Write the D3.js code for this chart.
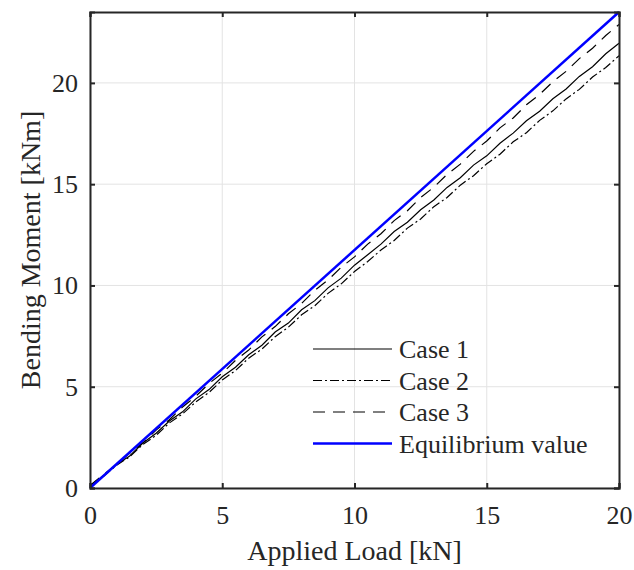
<!DOCTYPE html>
<html><head><meta charset="utf-8">
<script src="https://cdn.jsdelivr.net/npm/d3@7"></script>
<style>body{margin:0;background:#fff}svg{display:block}text{font-family:"Liberation Serif","Times New Roman",serif;fill:#262626}</style>
</head><body>
<svg id="c" width="634" height="570"></svg>
<script>
const load = [0,0.5,1,1.5,2,2.5,3,3.5,4,4.5,5,5.5,6,6.5,7,7.5,8,8.5,9,9.5,10,10.5,11,11.5,12,12.5,13,13.5,14,14.5,15,15.5,16,16.5,17,17.5,18,18.5,19,19.5,20];
const case1 = [0.10,0.60,1.16,1.58,2.22,2.70,3.31,3.76,4.40,4.86,5.49,5.96,6.58,7.05,7.70,8.14,8.80,9.25,9.88,10.36,11.00,11.52,12.04,12.66,13.12,13.74,14.22,14.84,15.32,15.94,16.40,17.02,17.52,18.13,18.60,19.22,19.70,20.32,20.80,21.44,21.96];
const case2 = [0.08,0.56,1.12,1.54,2.15,2.60,3.21,3.66,4.25,4.72,5.33,5.80,6.41,6.86,7.47,7.94,8.55,9.00,9.61,10.08,10.69,11.18,11.75,12.22,12.83,13.28,13.89,14.34,14.95,15.42,16.01,16.48,17.09,17.54,18.15,18.62,19.21,19.68,20.29,20.76,21.34];
const case3 = [0.12,0.66,1.14,1.72,2.23,2.86,3.37,4.00,4.53,5.16,5.67,6.30,6.81,7.46,7.97,8.60,9.11,9.76,10.27,10.90,11.41,12.04,12.55,13.20,13.69,14.34,14.85,15.48,15.99,16.62,17.13,17.78,18.27,18.92,19.43,20.06,20.57,21.20,21.71,22.34,22.88];
const eqLoad = [0,20];
const eqValue = [0,23.5];
const xTicks = [0,5,10,15,20];
const yTicks = [0,5,10,15,20];
const seriesNames = ["Case 1","Case 2","Case 3","Equilibrium value"];

const svg = d3.select("#c");
const L=90,R=619,T=12,B=488;
const x = d3.scaleLinear().domain([0,20]).range([L,R]);
const y = d3.scaleLinear().domain([0,23.5]).range([B,T]);

// grid
const g = svg.append("g");
g.selectAll(".gx").data(xTicks).join("line").attr("x1",d=>x(d)).attr("x2",d=>x(d)).attr("y1",T).attr("y2",B).attr("stroke","#e3e3e3").attr("stroke-width",1);
g.selectAll(".gy").data(yTicks).join("line").attr("y1",d=>y(d)).attr("y2",d=>y(d)).attr("x1",L).attr("x2",R).attr("stroke","#e3e3e3").attr("stroke-width",1);

// lines
const mk = (xs,ys)=>d3.line().x((d,i)=>x(xs[i])).y((d,i)=>y(ys[i]))(ys);
const styles = [
  {data:case1, dash:null, color:"#000", w:1.2},
  {data:case2, dash:"9,3,2,3", color:"#000", w:1.2},
  {data:case3, dash:"12,8", color:"#000", w:1.2}
];
styles.forEach(s=>{
  svg.append("path").attr("d",mk(load,s.data)).attr("fill","none").attr("stroke",s.color).attr("stroke-width",s.w).attr("stroke-dasharray",s.dash);
});
svg.append("path").attr("d",mk(eqLoad,eqValue)).attr("fill","none").attr("stroke","#0000ff").attr("stroke-width",2.5);

// axes (ticks inward)
const ax = svg.append("g");
const axB = d3.axisBottom(x).tickValues(xTicks).tickSize(-5).tickPadding(18).tickFormat(d3.format("d"));
const axL = d3.axisLeft(y).tickValues(yTicks).tickSize(-5).tickPadding(12).tickFormat(d3.format("d"));
const axT = d3.axisTop(x).tickValues(xTicks).tickSize(-5).tickFormat("");
const axR = d3.axisRight(y).tickValues(yTicks).tickSize(-5).tickFormat("");
[[axB,`translate(0,${B})`],[axL,`translate(${L},0)`],[axT,`translate(0,${T})`],[axR,`translate(${R},0)`]].forEach(([a,t])=>{
  const gg = ax.append("g").attr("transform",t).call(a);
  gg.select(".domain").attr("stroke","#262626").attr("stroke-width",2);
  gg.selectAll(".tick line").attr("stroke","#262626").attr("stroke-width",2);
  gg.selectAll("text").attr("font-size","26px").attr("font-family","Liberation Serif").attr("fill","#262626");
});

// titles
svg.append("text").attr("x",(L+R)/2).attr("y",560).attr("text-anchor","middle").attr("font-size","28px").text("Applied Load [kN]");
svg.append("text").attr("transform",`translate(40,${(T+B)/2}) rotate(-90)`).attr("text-anchor","middle").attr("font-size","28px").text("Bending Moment [kNm]");

// legend
const leg = svg.append("g");
const legDash=[null,"9,3,2,3","12,8",null];
const legCol=["#000","#000","#000","#0000ff"];
const legW=[1.2,1.2,1.2,2.5];
seriesNames.forEach((n,i)=>{
  const yy = 349 + i*31.5;
  leg.append("line").attr("x1",313).attr("x2",392).attr("y1",yy).attr("y2",yy).attr("stroke",legCol[i]).attr("stroke-width",legW[i]).attr("stroke-dasharray",legDash[i]);
  leg.append("text").attr("x",399).attr("y",yy+9).attr("font-size","26px").text(n);
});
</script>
</body></html>
